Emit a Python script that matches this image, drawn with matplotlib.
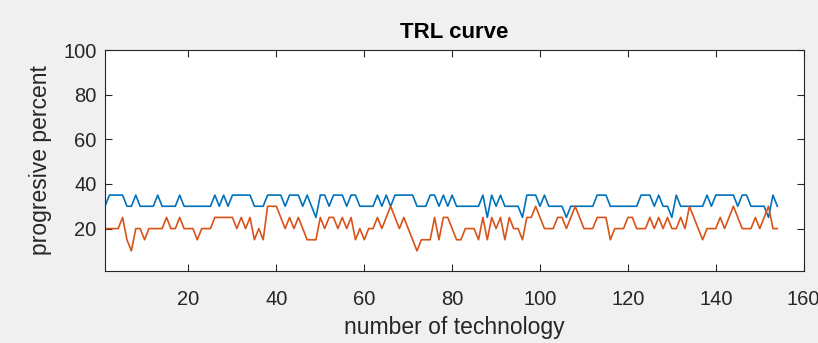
import matplotlib
matplotlib.use("Agg")
import matplotlib.pyplot as plt
import numpy as np

# ---- data ----
blue = [30, 35, 35, 35, 35, 30, 30, 35, 30, 30,
        30, 30, 35, 30, 30, 30, 30, 35, 30, 30,
        30, 30, 30, 30, 30, 35, 30, 35, 30, 35,
        35, 35, 35, 35, 30, 30, 30, 35, 35, 35,
        35, 30, 35, 35, 35, 30, 35, 30, 25, 35,
        35, 30, 35, 35, 35, 30, 35, 35, 30, 30,
        30, 30, 35, 30, 35, 30, 35, 35, 35, 35,
        35, 30, 30, 30, 35, 35, 30, 35, 30, 35,
        30, 30, 30, 30, 30, 30, 35, 25, 35, 30,
        35, 30, 30, 30, 30, 25, 35, 35, 35, 30,
        35, 30, 30, 30, 30, 25, 30, 30, 30, 30,
        30, 30, 35, 35, 35, 30, 30, 30, 30, 30,
        30, 30, 35, 35, 35, 30, 35, 30, 30, 25,
        35, 30, 30, 30, 30, 30, 30, 35, 30, 35,
        35, 35, 35, 35, 30, 35, 35, 30, 30, 30,
        30, 25, 35, 30]

orange = [20, 20, 20, 20, 25, 15, 10, 20, 20, 15,
          20, 20, 20, 20, 25, 20, 20, 25, 20, 20,
          20, 15, 20, 20, 20, 25, 25, 25, 25, 25,
          20, 25, 20, 25, 15, 20, 15, 30, 30, 30,
          25, 20, 25, 20, 25, 20, 15, 15, 15, 25,
          20, 25, 25, 20, 25, 20, 25, 15, 20, 15,
          20, 20, 25, 20, 25, 30, 25, 20, 25, 20,
          15, 10, 15, 15, 15, 25, 15, 25, 25, 20,
          15, 15, 20, 20, 20, 15, 25, 15, 25, 20,
          25, 15, 25, 20, 20, 15, 25, 25, 30, 25,
          20, 20, 20, 25, 25, 20, 25, 30, 25, 20,
          20, 20, 25, 25, 25, 15, 20, 20, 20, 25,
          25, 20, 20, 20, 25, 20, 25, 20, 25, 20,
          20, 25, 20, 30, 25, 20, 15, 20, 20, 20,
          25, 20, 25, 30, 25, 20, 20, 20, 25, 20,
          25, 30, 20, 20]

x_ticks = [20, 40, 60, 80, 100, 120, 140, 160]
y_ticks = [20, 40, 60, 80, 100]
title = "TRL curve"
xlabel = "number of technology"
ylabel = "progresive percent"

# ---- styling ----
plt.rcParams['font.family'] = ['Liberation Sans', 'DejaVu Sans']
edge = '#262626'

fig = plt.figure(figsize=(8.18, 3.43), dpi=100, facecolor='#F0F0F0')
ax = fig.add_axes([105/818, 1 - 271/343, (803.7 - 105)/818, (271 - 50)/343])
ax.set_facecolor('white')

ax.plot(np.arange(1, len(blue) + 1), blue, color='#0072BD', lw=1.2)
ax.plot(np.arange(1, len(orange) + 1), orange, color='#D95319', lw=1.2)

ax.set_xlim(1, 160)
ax.set_ylim(1, 100)
ax.set_xticks(x_ticks)
ax.set_yticks(y_ticks)
ax.tick_params(direction='in', length=5, width=0.8, colors=edge,
               labelsize=14.5, top=True, right=True)
ax.tick_params(axis='y', pad=6)
ax.tick_params(axis='x', pad=14)
for s in ax.spines.values():
    s.set_color(edge)
    s.set_linewidth(0.8)

ax.set_title(title, fontsize=16, fontweight='bold', color='black', pad=9)
ax.set_xlabel(xlabel, fontsize=16.5, color=edge, labelpad=5)
ax.set_ylabel(ylabel, fontsize=16.5, color=edge, labelpad=8)

fig.savefig("out.png", dpi=100, facecolor=fig.get_facecolor())
